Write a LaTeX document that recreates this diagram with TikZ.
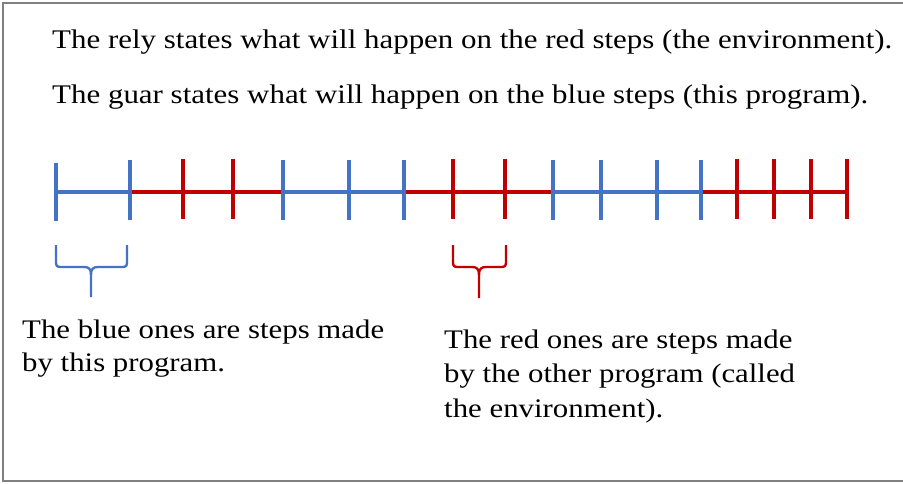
\documentclass[tikz,border=0pt]{standalone}
\usepackage{fontspec}
\setmainfont[FakeStretch=1.15]{Liberation Serif}
\definecolor{stepblue}{HTML}{4472C4}
\definecolor{stepred}{HTML}{C00000}
\definecolor{framegray}{HTML}{808080}
\begin{document}
\begin{tikzpicture}[x=1pt,y=-1pt,
  toptext/.style={anchor=base west,inner sep=0pt,font=\fontsize{26.9}{30}\selectfont},
  bottext/.style={anchor=north west,inner sep=0pt,align=left,font=\fontsize{26.8}{33}\selectfont},
  seg/.style={line width=3.5pt},
  tick/.style={line width=3.5pt},
  bracestyle/.style={line width=2.3pt,line join=round}]
\useasboundingbox (0,0) rectangle (903,484);
\fill[white] (0,0) rectangle (903,484);
% frame
\draw[framegray,line width=2pt] (904,3) -- (3,3) -- (3,481) -- (904,481);
% texts
\node[toptext] (rely) at (52,48.5) {The rely states what will happen on the red steps (the environment).};
\node[toptext] (guar) at (52,103.5) {The guar states what will happen on the blue steps (this program).};
\node[bottext] (bluetxt) at (22,320) {The blue ones are steps made\\by this program.};
\node[bottext,font=\fontsize{26.8}{34.5}\selectfont] (redtxt) at (444,329.5) {The red ones are steps made\\by the other program (called\\the environment).};
% timeline coordinates
\foreach \n/\x in {b1/56,b2/130,b3/283,b4/349,b5/404,b6/553,b7/601,b8/657,b9/701,
                   r1/183,r2/233,r3/453,r4/505,r5/737,r6/774,r7/811,r8/847}
  \coordinate (\n) at (\x,192);
% horizontal segments
\draw[seg,stepblue] (b1) -- (b2);
\draw[seg,stepred] (b2) -- (b3);
\draw[seg,stepblue] (b3) -- (b5);
\draw[seg,stepred] (b5) -- (b6);
\draw[seg,stepblue] (b6) -- (b9);
\draw[seg,stepred] (b9) -- (r8);
% ticks
\draw[tick,stepblue] ([yshift=29pt]b1) -- ([yshift=-29pt]b1);
\foreach \n in {b2,b3,b4,b5,b6,b7,b8,b9}
  \draw[tick,stepblue] ([yshift=32pt]\n) -- ([yshift=-28pt]\n);
\foreach \n in {r1,r2,r3,r4,r5,r6,r7,r8}
  \draw[tick,stepred] ([yshift=33pt]\n) -- ([yshift=-27pt]\n);
% braces
\coordinate (bbl) at (56,245); \coordinate (bbr) at (127,245); \coordinate (bbt) at (91,297);
\draw[bracestyle,stepblue] (bbl) -- (56,262) .. controls (56,266) and (57,267) .. (61,267) -- (84,267)
  .. controls (89,267) and (91,269) .. (91,275) -- (bbt);
\draw[bracestyle,stepblue] (bbr) -- (127,262) .. controls (127,266) and (126,267) .. (122,267) -- (98,267)
  .. controls (93,267) and (91,269) .. (91,275);
\coordinate (rbl) at (453,245); \coordinate (rbr) at (506,245); \coordinate (rbt) at (479,298);
\draw[bracestyle,stepred] (rbl) -- (453,262) .. controls (453,266) and (454,267) .. (458,267) -- (472,267)
  .. controls (477,267) and (479,269) .. (479,275) -- (rbt);
\draw[bracestyle,stepred] (rbr) -- (506,262) .. controls (506,266) and (505,267) .. (501,267) -- (486,267)
  .. controls (481,267) and (479,269) .. (479,275);
\end{tikzpicture}
\end{document}
